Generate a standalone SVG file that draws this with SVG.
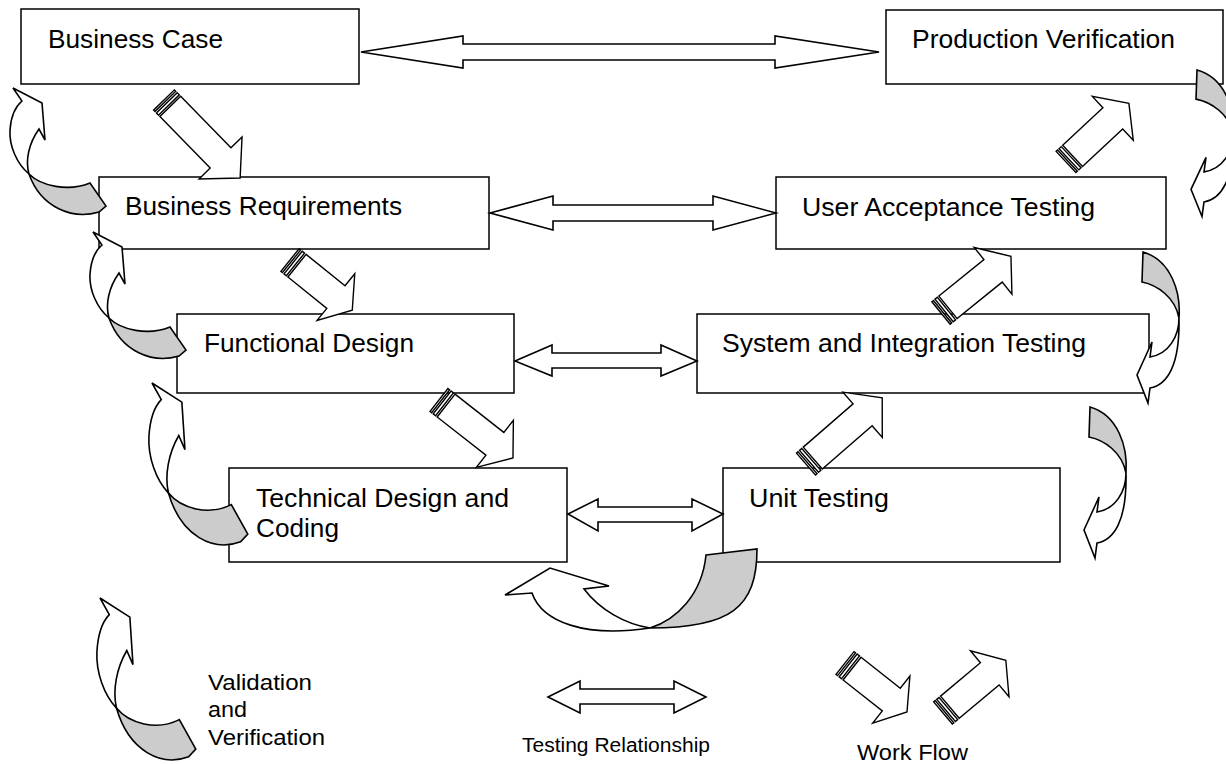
<svg xmlns="http://www.w3.org/2000/svg" xmlns:xlink="http://www.w3.org/1999/xlink" width="1226" height="764" viewBox="0 0 1226 764">
<style>
.box{fill:#fff;stroke:#000;stroke-width:1.5}
.lbl{font-family:"Liberation Sans",Arial,sans-serif;font-size:25px;fill:#000}
.leg{font-family:"Liberation Sans",Arial,sans-serif;font-size:22px;fill:#000}
.dbl{fill:#fff;stroke:#000;stroke-width:1.6;stroke-linejoin:miter}
.wf{fill:#fff;stroke:#000;stroke-width:1.4;stroke-linejoin:miter}
.cw{fill:#fff;stroke:#000;stroke-width:1.6;stroke-linejoin:miter}
.cg{fill:#ccc;stroke:#000;stroke-width:1.6;stroke-linejoin:miter}
</style>
<defs>
<g id="stripes">
<rect class="wf" x="0" y="-14.5" width="2" height="29"/>
<rect class="wf" x="4" y="-14.5" width="3" height="29"/>
</g>
<g id="vvLeft">
<path class="cw" vector-effect="non-scaling-stroke" d="M0,0 L29,15 L32,52 L26,41 C16,55 12,72 16,86 C4,76 -4,58 -3,42 C-2,28 3,18 9,13 Z"/>
<path class="cg" vector-effect="non-scaling-stroke" d="M16,86 C28,98 55,104 77,95 L93,118 L86,124 C60,132 28,120 16,86 Z"/>
</g>
<g id="vvRight">
<path class="cg" vector-effect="non-scaling-stroke" d="M0,0 L-1,30 C14,33 32,45 36,66 C38,40 28,8 0,0 Z"/>
<path class="cw" vector-effect="non-scaling-stroke" d="M36,66 C36,84 26,102 7,105 L9,90 L-6,123 L5,151 L7,136 C24,133 37,114 36,66 Z"/>
</g>
</defs>
<rect width="1226" height="764" fill="#fff"/>

<g id="nodes">
<g id="business-case"><rect class="box" x="21" y="9" width="338" height="75"/><text class="lbl" x="48" y="48" textLength="175" lengthAdjust="spacingAndGlyphs">Business Case</text></g>
<g id="production-verification"><rect class="box" x="886" y="10" width="337" height="74"/><text class="lbl" x="912" y="48" textLength="263" lengthAdjust="spacingAndGlyphs">Production Verification</text></g>
<g id="business-requirements"><rect class="box" x="99" y="177" width="390" height="72"/><text class="lbl" x="125" y="215" textLength="277" lengthAdjust="spacingAndGlyphs">Business Requirements</text></g>
<g id="user-acceptance-testing"><rect class="box" x="776" y="177" width="390" height="72"/><text class="lbl" x="802" y="216" textLength="293" lengthAdjust="spacingAndGlyphs">User Acceptance Testing</text></g>
<g id="functional-design"><rect class="box" x="177" y="314" width="337" height="79"/><text class="lbl" x="204" y="352" textLength="210" lengthAdjust="spacingAndGlyphs">Functional Design</text></g>
<g id="system-integration-testing"><rect class="box" x="697" y="314" width="452" height="79"/><text class="lbl" x="722" y="352" textLength="364" lengthAdjust="spacingAndGlyphs">System and Integration Testing</text></g>
<g id="technical-design-coding"><rect class="box" x="229" y="468" width="338" height="94"/><text class="lbl" x="256" y="507" textLength="253" lengthAdjust="spacingAndGlyphs">Technical Design and</text><text class="lbl" x="256" y="537" textLength="83" lengthAdjust="spacingAndGlyphs">Coding</text></g>
<g id="unit-testing"><rect class="box" x="723" y="468" width="337" height="94"/><text class="lbl" x="749" y="507" textLength="140" lengthAdjust="spacingAndGlyphs">Unit Testing</text></g>
</g>

<g id="connectors">
<!-- testing relationships -->
<path class="dbl" d="M361,52 L463,36 L463,44 L775,44 L775,36 L879,52 L775,68 L775,60 L463,60 L463,68 Z"/>
<path class="dbl" d="M490,213 L553,196 L553,205 L713,205 L713,196 L776,213 L713,230 L713,221 L553,221 L553,230 Z"/>
<path class="dbl" d="M515,361 L552,345 L552,353 L661,353 L661,345 L697,361 L661,376 L661,368 L552,368 L552,376 Z"/>
<path class="dbl" d="M568,514 L598,499 L598,507 L692,507 L692,499 L723,514 L692,531 L692,522 L598,522 L598,531 Z"/>
<!-- work flow -->
<g transform="translate(164,100) rotate(45.7)"><use xlink:href="#stripes"/><path class="wf" d="M9,-14.5 H81 V-30 L109,0 L81,30 V14.5 H9 Z"/></g>
<g transform="translate(290,260) rotate(38.9)"><use xlink:href="#stripes"/><path class="wf" d="M9,-14.5 H59 V-30 L80,0 L59,30 V14.5 H9 Z"/></g>
<g transform="translate(439,400) rotate(38.1)"><use xlink:href="#stripes"/><path class="wf" d="M9,-14.5 H71 V-30 L94,0 L71,30 V14.5 H9 Z"/></g>
<g transform="translate(806,464) rotate(-41)"><use xlink:href="#stripes"/><path class="wf" d="M9,-14.5 H75 V-30 L101,0 L75,30 V14.5 H9 Z"/></g>
<g transform="translate(941,313) rotate(-39)"><use xlink:href="#stripes"/><path class="wf" d="M9,-14.5 H67 V-30 L90,0 L67,30 V14.5 H9 Z"/></g>
<g transform="translate(1066,162) rotate(-43)"><use xlink:href="#stripes"/><path class="wf" d="M9,-14.5 H64 V-30 L86,0 L64,30 V14.5 H9 Z"/></g>
<!-- validation and verification -->
<use xlink:href="#vvLeft" transform="translate(13,88)"/>
<use xlink:href="#vvLeft" transform="translate(93,232)"/>
<use xlink:href="#vvLeft" transform="translate(152,383) scale(1.03,1.28)"/>
<use xlink:href="#vvRight" transform="translate(1197,70) scale(1,0.97)"/>
<use xlink:href="#vvRight" transform="translate(1143,252)"/>
<use xlink:href="#vvRight" transform="translate(1090,407)"/>
<path class="cg" d="M706,555 L757,549 C757,608 730,628 650,628 C676,620 702,595 706,555 Z"/>
<path class="cw" d="M650,628 C625,624 600,610 584,589 L609,586 L550,568 L505,595 L532,593 C542,622 585,638 650,628 Z"/>
</g>

<g id="legend">
<use xlink:href="#vvLeft" transform="translate(100,598) scale(1.03,1.28)"/>
<text class="leg" x="208" y="690" textLength="104" lengthAdjust="spacingAndGlyphs">Validation</text>
<text class="leg" x="208" y="717" textLength="39" lengthAdjust="spacingAndGlyphs">and</text>
<text class="leg" x="208" y="745" textLength="117" lengthAdjust="spacingAndGlyphs">Verification</text>
<path class="dbl" d="M548,697 L580,681 L580,689 L674,689 L674,681 L706,697 L674,713 L674,704 L580,704 L580,713 Z"/>
<text class="leg" x="522" y="752" font-size="20" style="font-size:20px" textLength="188" lengthAdjust="spacingAndGlyphs">Testing Relationship</text>
<g transform="translate(845,663) rotate(38.3)"><use xlink:href="#stripes"/><path class="wf" d="M9,-14.5 H59 V-30 L79,0 L59,30 V14.5 H9 Z"/></g>
<g transform="translate(943,713) rotate(-40)"><use xlink:href="#stripes"/><path class="wf" d="M9,-14.5 H61 V-30 L82,0 L61,30 V14.5 H9 Z"/></g>
<text class="leg" x="857" y="760" textLength="111" lengthAdjust="spacingAndGlyphs">Work Flow</text>
</g>
</svg>
